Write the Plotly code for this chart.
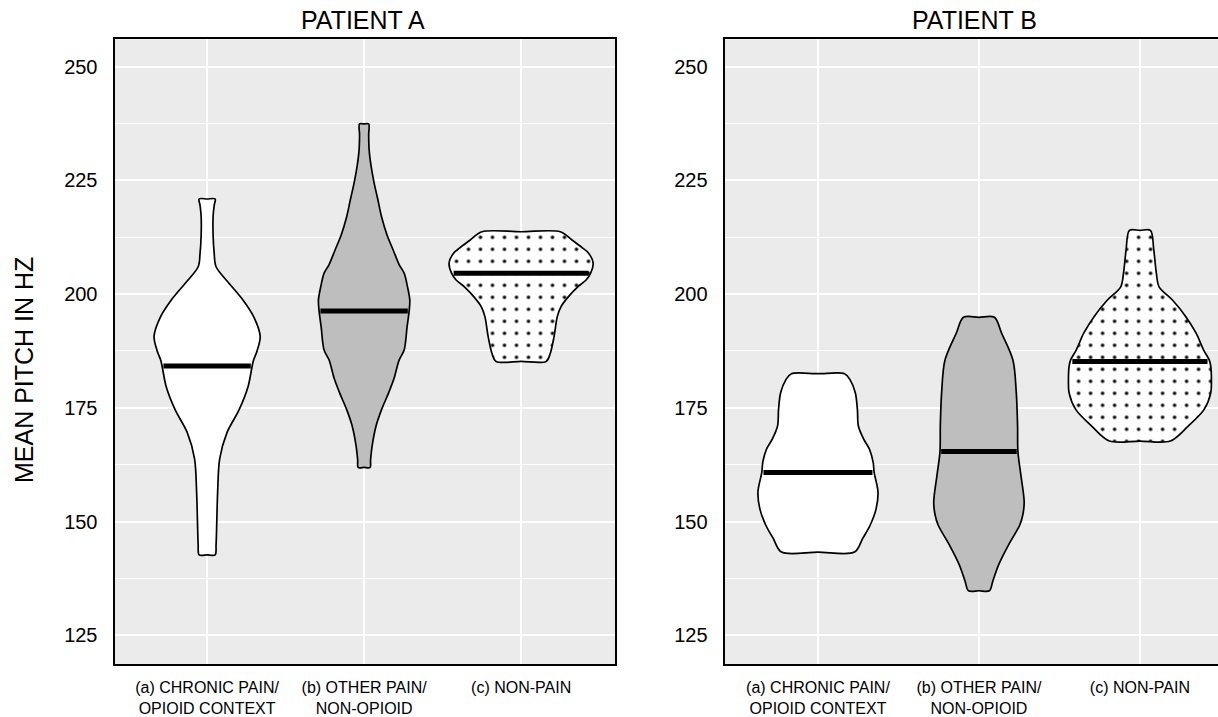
import numpy as np
import plotly.graph_objects as go

# ---------------- data ----------------
categories = ["(a) CHRONIC PAIN/<br>OPIOID CONTEXT", "(b) OTHER PAIN/<br>NON-OPIOID", "(c) NON-PAIN"]
panel_titles = ["PATIENT A", "PATIENT B"]
y_ticks = [125, 150, 175, 200, 225, 250]

# Violin outlines: pitch (Hz, top -> bottom) and half-width (category units)
# Patient A
a_chronic_hz = [220.9, 219.5, 217.0, 213.0, 209.0, 206.0, 202.4, 198.7, 195.0, 190.7, 187.5, 185.5, 184.2,
                179.7, 174.6, 169.6, 163.8, 156.5, 149.3, 144.9, 142.7]
a_chronic_w = [0.051, 0.045, 0.038, 0.038, 0.045, 0.057, 0.139, 0.228, 0.297, 0.338, 0.318, 0.296, 0.287,
               0.261, 0.204, 0.127, 0.080, 0.067, 0.061, 0.057, 0.051]

a_other_hz = [237.4, 235.0, 231.7, 228.0, 224.4, 221.0, 217.0, 213.0, 209.7, 206.5, 204.6, 201.5, 198.7,
              196.3, 192.9, 187.7, 185.5, 181.5, 178.3, 174.6, 171.0, 166.6, 163.5, 161.9]
a_other_w = [0.029, 0.029, 0.032, 0.045, 0.064, 0.086, 0.111, 0.146, 0.185, 0.223, 0.255, 0.277, 0.291,
             0.287, 0.274, 0.255, 0.223, 0.191, 0.156, 0.111, 0.076, 0.051, 0.041, 0.038]

a_nonpain_hz = [213.7, 211.9, 210.4, 209.0, 206.8, 204.6, 203.1, 201.6, 199.5, 197.3, 195.1, 190.7, 187.0, 185.2]
a_nonpain_w = [0.250, 0.324, 0.382, 0.430, 0.459, 0.443, 0.414, 0.361, 0.303, 0.255, 0.231, 0.210, 0.186, 0.159]

# Patient B
b_chronic_hz = [182.5, 181.2, 178.3, 174.6, 171.0, 168.1, 165.9, 163.0, 160.8, 156.5, 152.8, 149.2, 146.3, 143.3]
b_chronic_w = [0.165, 0.199, 0.232, 0.245, 0.251, 0.284, 0.320, 0.343, 0.349, 0.373, 0.361, 0.324, 0.278, 0.227]

b_other_hz = [194.9, 191.4, 185.5, 178.3, 171.0, 165.4, 160.1, 154.3, 151.4, 149.2, 144.9, 140.5, 136.9, 134.8]
b_other_w = [0.096, 0.141, 0.211, 0.232, 0.240, 0.242, 0.261, 0.281, 0.272, 0.253, 0.184, 0.122, 0.086, 0.065]

b_nonpain_hz = [214.0, 209.7, 204.6, 201.6, 198.7, 195.1, 191.4, 187.7, 185.5, 184.1, 181.2, 178.3, 174.6,
                171.0, 167.7]
b_nonpain_w = [0.065, 0.086, 0.102, 0.119, 0.202, 0.284, 0.349, 0.396, 0.431, 0.440, 0.444, 0.440, 0.398,
               0.300, 0.189]

a_medians = [184.2, 196.3, 204.6]
b_medians = [160.8, 165.4, 185.2]

# ---------------- styles ----------------
fills = ["white", "#bebebe", "white"]
patterns = [None, None, dict(shape=".", size=12, solidity=0.07, fgcolor="black", fgopacity=1,
                             bgcolor="white")]
FONT = "Liberation Sans, Arial, Helvetica, sans-serif"
W, H = 1218, 717

fig = go.Figure()

panels = [
    ("x", "y", [(a_chronic_hz, a_chronic_w), (a_other_hz, a_other_w), (a_nonpain_hz, a_nonpain_w)], a_medians),
    ("x2", "y2", [(b_chronic_hz, b_chronic_w), (b_other_hz, b_other_w), (b_nonpain_hz, b_nonpain_w)], b_medians),
]

for xa, ya, violins, medians in panels:
    for i, ((hz, w), med) in enumerate(zip(violins, medians)):
        c = i + 1
        hz = np.array(hz, dtype=float)
        w = np.array(w, dtype=float)
        xs = np.concatenate([[c], c + w, [c], (c - w)[::-1], [c]])
        ys = np.concatenate([[hz[0]], hz, [hz[-1]], hz[::-1], [hz[0]]])
        kw = dict(
            x=xs, y=ys, xaxis=xa, yaxis=ya, mode="lines", fill="toself",
            fillcolor=fills[i], line=dict(color="black", width=1.7, shape="spline", smoothing=0.9),
            hoverinfo="skip", showlegend=False,
        )
        if patterns[i] is not None:
            kw["fillpattern"] = patterns[i]
        fig.add_trace(go.Scatter(**kw))
        wm = float(np.interp(med, hz[::-1], w[::-1])) * 0.97
        fig.add_trace(go.Scatter(
            x=[c - wm, c + wm], y=[med, med], xaxis=xa, yaxis=ya, mode="lines",
            line=dict(color="black", width=5), hoverinfo="skip", showlegend=False,
        ))

# ---------------- layout ----------------
px_x = lambda p: p / W
px_y = lambda p: 1 - p / H

y_common = dict(
    range=[118.7, 256.0], tickvals=y_ticks, ticktext=[str(t) for t in y_ticks],
    showgrid=True, gridcolor="white", gridwidth=2, zeroline=False,
    minor=dict(tickvals=[137.5, 162.5, 187.5, 212.5, 237.5], showgrid=True, gridcolor="white",
               gridwidth=1, ticks=""),
    showline=True, linecolor="black", linewidth=2, ticks="",
    tickfont=dict(family=FONT, size=20, color="black"), ticklabelstandoff=11,
    domain=[px_y(664), px_y(39.3)], automargin=False,
)
x_common = dict(
    tickvals=[1, 2, 3], ticktext=categories, showgrid=True, gridcolor="white", gridwidth=1.5,
    zeroline=False, showline=True, mirror=True, linecolor="black", linewidth=2, ticks="",
    tickfont=dict(family=FONT, size=16, color="black"), ticklabelstandoff=8, automargin=False,
)

fig.update_layout(
    width=W, height=H,
    margin=dict(l=0, r=0, t=0, b=0),
    paper_bgcolor="white", plot_bgcolor="#EBEBEB",
    xaxis=dict(**x_common, domain=[px_x(114.5), px_x(615.3)], range=[0.41, 3.6], anchor="y"),
    yaxis=dict(**y_common, mirror=True, anchor="x"),
    xaxis2=dict(**x_common, domain=[px_x(724.6), 1.0], range=[0.42, 3.485], anchor="y2"),
    yaxis2=dict(**y_common, mirror=False, anchor="x2"),
    annotations=[
        dict(text=panel_titles[0], x=px_x(362.5), y=px_y(20), xref="paper", yref="paper",
             showarrow=False, xanchor="center", yanchor="middle",
             font=dict(family=FONT, size=25, color="black")),
        dict(text=panel_titles[1], x=px_x(974.6), y=px_y(20), xref="paper", yref="paper",
             showarrow=False, xanchor="center", yanchor="middle",
             font=dict(family=FONT, size=25, color="black")),
        dict(text="MEAN PITCH IN HZ", x=px_x(24), y=px_y(370), xref="paper", yref="paper",
             showarrow=False, xanchor="center", yanchor="middle", textangle=-90,
             font=dict(family=FONT, size=25, color="black")),
    ],
)

fig.write_html(
    "out.html",
    config={"displayModeBar": False},
    post_script="document.body.style.margin='0';document.body.style.padding='0';"
                "document.body.style.overflow='hidden';",
)
